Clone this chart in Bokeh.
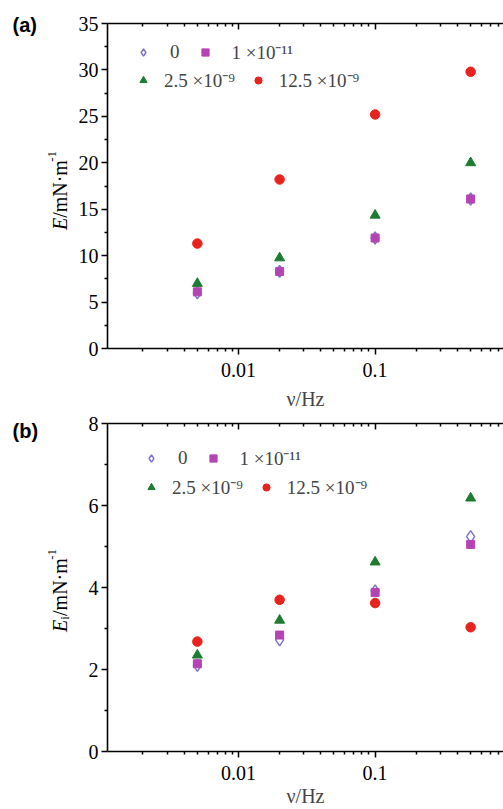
from math import pi
from bokeh.plotting import figure
from bokeh.layouts import column, row
from bokeh.models import (FixedTicker, LogAxis, Legend, LegendItem, Range1d,
                          NumeralTickFormatter, CustomJSTickFormatter)
from bokeh.core.properties import value
from bokeh.embed import file_html
from bokeh.resources import INLINE

# ---------------- data ----------------
freq = [0.005, 0.02, 0.1, 0.5]                     # ν / Hz
series_names = ["0", "1 ×10⁻¹¹", "2.5 ×10⁻⁹", "12.5 ×10⁻⁹"]

E_0 = [6.0, 8.3, 11.9, 16.1]
E_1e11 = [6.1, 8.3, 11.9, 16.1]
E_25e9 = [7.0, 9.75, 14.35, 20.0]
E_125e9 = [11.3, 18.2, 25.2, 29.8]

Ei_0 = [2.10, 2.72, 3.92, 5.24]
Ei_1e11 = [2.14, 2.84, 3.88, 5.05]
Ei_25e9 = [2.35, 3.20, 4.62, 6.18]
Ei_125e9 = [2.68, 3.70, 3.62, 3.03]

x_major_ticks = [0.001, 0.01, 0.1, 1.0]
ya_major_ticks = [0, 5, 10, 15, 20, 25, 30, 35]
yb_major_ticks = [0, 2, 4, 6, 8]
panel_tags = ["(a)", "(b)"]

# ---------------- style ----------------
SERIF = "Liberation Serif"
COL_DIAMOND = "#7b6fc9"
COL_SQUARE = "#b444b4"
COL_TRI = "#1e7b32"
COL_CIRC = "#e8231d"
X_RANGE = (0.0011, 0.87)
LAB_W = 72            # width of the strip that holds panel tags and y titles
MAIN_W = 503 - LAB_W
HA, HB = 412, 397

x_minor_ticks = [d * k for d in (0.001, 0.01, 0.1) for k in range(2, 10)]


def style_axis(ax):
    ax.axis_line_width = 1.6
    ax.axis_line_color = "black"
    ax.major_tick_line_width = 1.5
    ax.minor_tick_line_width = 1.5
    ax.major_tick_line_color = "black"
    ax.minor_tick_line_color = "black"
    ax.major_tick_in = 0
    ax.major_tick_out = 6
    ax.minor_tick_in = 0
    ax.minor_tick_out = 3
    ax.major_label_text_font = SERIF
    ax.major_label_text_font_size = "20px"
    ax.major_label_text_color = "black"


def make_panel(ys, y_max, y_major, height, top, bottom, legend_dx, legend_rows_y,
               xlabel_standoff):
    p = figure(width=MAIN_W, height=height, x_axis_type="log",
               x_range=Range1d(*X_RANGE), y_range=Range1d(0, y_max),
               output_backend="svg", toolbar_location=None,
               min_border_left=107 - LAB_W, min_border_right=0,
               min_border_top=top, min_border_bottom=bottom,
               outline_line_color=None, background_fill_color="white",
               border_fill_color=None)
    p.xgrid.visible = False
    p.ygrid.visible = False

    xa = p.xaxis[0]
    xa.ticker = FixedTicker(ticks=x_major_ticks, minor_ticks=x_minor_ticks)
    xa.formatter = NumeralTickFormatter(format="0.[000]")
    style_axis(xa)
    xa.major_label_standoff = 8
    xa.axis_label = "ν/Hz"
    xa.axis_label_text_font = SERIF
    xa.axis_label_text_font_style = "normal"
    xa.axis_label_text_font_size = "20px"
    xa.axis_label_standoff = xlabel_standoff

    minor_y = [t + (y_major[1] - y_major[0]) / 2 for t in y_major[:-1]]
    ya = p.yaxis[0]
    ya.ticker = FixedTicker(ticks=y_major, minor_ticks=minor_y)
    style_axis(ya)
    ya.major_label_standoff = 3

    top_ax = LogAxis(ticker=FixedTicker(ticks=x_major_ticks, minor_ticks=x_minor_ticks),
                     formatter=CustomJSTickFormatter(code="return ''"))
    style_axis(top_ax)
    top_ax.major_tick_in = 6
    top_ax.major_tick_out = 0
    top_ax.minor_tick_in = 3
    top_ax.minor_tick_out = 0
    top_ax.major_label_text_font_size = "1px"
    top_ax.major_label_standoff = 0
    p.add_layout(top_ax, "above")

    r0 = p.scatter(freq, ys[0], marker="diamond", size=12,
                   fill_color="white", fill_alpha=0.0, line_color=COL_DIAMOND, line_width=1.4)
    r1 = p.scatter(freq, ys[1], marker="square", size=8,
                   fill_color=COL_SQUARE, line_color=COL_SQUARE)
    r2 = p.scatter(freq, ys[2], marker="triangle", size=10,
                   fill_color=COL_TRI, line_color=COL_TRI)
    r3 = p.scatter(freq, ys[3], marker="circle", size=9.5,
                   fill_color=COL_CIRC, line_color=COL_CIRC)

    frame_h = height - top - bottom
    rows = [([r0, r1], series_names[:2], 18, 16), ([r2, r3], series_names[2:], 12, 14)]
    for (rs, names, standoff, spacing), ry in zip(rows, legend_rows_y):
        leg = Legend(items=[LegendItem(label=n, renderers=[r]) for n, r in zip(names, rs)],
                     orientation="horizontal", location=(27 + legend_dx, frame_h - ry - 11),
                     glyph_width=18, glyph_height=18, label_standoff=standoff,
                     spacing=spacing, padding=0, margin=0, border_line_color=None,
                     background_fill_alpha=0.0, label_text_font=SERIF,
                     label_text_font_size="19px", label_height=22, label_width=0)
        p.add_layout(leg)
    return p


pa = make_panel([E_0, E_1e11, E_25e9, E_125e9], 35, ya_major_ticks, HA, 23, 64, 0,
                [31, 59], 8)
pb = make_panel([Ei_0, Ei_1e11, Ei_25e9, Ei_125e9], 8, yb_major_ticks, HB, 11, 57, 8,
                [38, 67], 2)

# strip on the left with panel tags and the composed (rotated) y-axis titles
lab = figure(width=LAB_W, height=HA + HB, x_range=Range1d(0, LAB_W),
             y_range=Range1d(HA + HB, 0), output_backend="svg", toolbar_location=None,
             min_border=0, outline_line_color=None, x_axis_location=None,
             y_axis_location=None, background_fill_color="white", border_fill_color="white")
lab.xgrid.visible = False
lab.ygrid.visible = False
lab.text(x=[12, 12], y=[24, 430], text=panel_tags, text_font=value("Liberation Sans"),
         text_font_style="bold", text_font_size="20px", text_baseline="middle",
         text_align="left", text_color="black")

BASE_X = 59
# (text, font size, style, baseline shift, advance) bottom → top
title_a = [("E", "20px", "italic", 0, 12.2), ("/mN·m", "20px", "normal", 0, 56.1),
           ("-1", "13px", "normal", -8, 10.8)]
title_b = [("E", "20px", "italic", 0, 12.2), ("i", "13px", "normal", 5, 3.8),
           ("/mN·m", "20px", "normal", 0, 56.1), ("-1", "13px", "normal", -8, 10.8)]
for pieces, center in ((title_a, 190), (title_b, 590)):
    yy = center + sum(pc[4] for pc in pieces) / 2
    for txt, size, style, dx, w in pieces:
        lab.text(x=[BASE_X + dx], y=[yy], text=[txt], angle=pi / 2,
                 text_font=value(SERIF), text_font_style=style, text_font_size=size,
                 text_baseline="alphabetic", text_align="left", text_color="black")
        yy -= w

layout = row(lab, column(pa, pb, spacing=0), spacing=0)
open("out.html", "w").write(file_html(layout, INLINE))
